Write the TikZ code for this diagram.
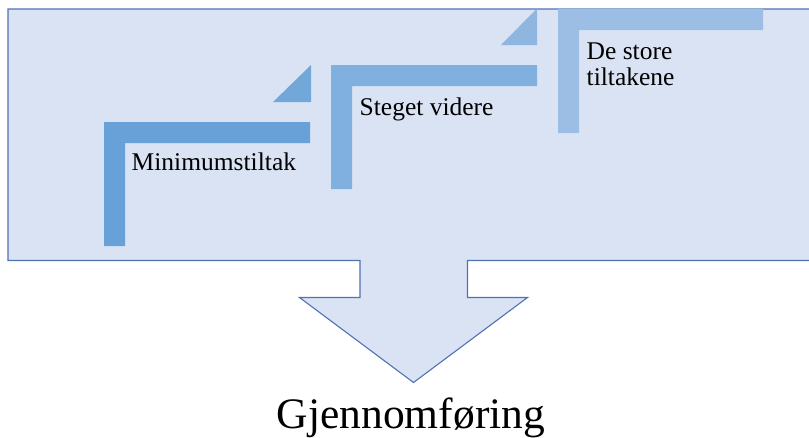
\documentclass[tikz,border=0pt]{standalone}
\usepackage{fontspec}
\setmainfont{Liberation Serif}
\definecolor{boxfill}{HTML}{DAE3F3}
\definecolor{boxline}{HTML}{4F72B5}
\definecolor{stepA}{HTML}{67A1D7}
\definecolor{stepB}{HTML}{80B0DF}
\definecolor{stepC}{HTML}{9CBEE4}
\definecolor{triB}{HTML}{72A7DA}
\definecolor{triC}{HTML}{8EB6E1}
\begin{document}
\begin{tikzpicture}[x=1pt,y=-1pt,
  outline/.style={fill=boxfill,draw=boxline,line width=1.1pt,line join=miter},
  lbl/.style={anchor=base west,inner sep=0pt,font=\fontsize{25.5}{26}\selectfont},
  biglbl/.style={anchor=base,inner sep=0pt,font=\fontsize{43.5}{48}\selectfont}]
\useasboundingbox (0,0) rectangle (809,437);
% main box with down arrow
\path[outline] (8,9) -- (820,9) -- (820,260.5) -- (467.5,260.5) -- (467.5,297.5)
  -- (527.5,297.5) -- (413.5,382.5) -- (299.5,297.5) -- (360,297.5) -- (360,260.5)
  -- (8,260.5) -- cycle;
% step 1
\fill[stepA] (104,122) -- (310,122) -- (310,143) -- (125,143) -- (125,246) -- (104,246) -- cycle;
% step 2
\fill[triB] (273,102) -- (311,102) -- (311,65) -- cycle;
\fill[stepB] (331,65) -- (537,65) -- (537,86) -- (352,86) -- (352,189) -- (331,189) -- cycle;
% step 3
\fill[triC] (501,45) -- (537,45) -- (537,8.5) -- cycle;
\fill[stepC] (558,8.5) -- (763,8.5) -- (763,30) -- (579,30) -- (579,133) -- (558,133) -- cycle;
% labels
\node[lbl] (t1) at (131.5,170.5) {Minimumstiltak};
\node[lbl] (t2) at (359.5,115) {Steget videre};
\node[lbl] (t3) at (586.5,59.5) {\renewcommand\arraystretch{1}\begin{tabular}[t]{@{}l@{}}De store\\tiltakene\end{tabular}};
\node[biglbl] (t4) at (411,428) {Gjennomføring};
\end{tikzpicture}
\end{document}
